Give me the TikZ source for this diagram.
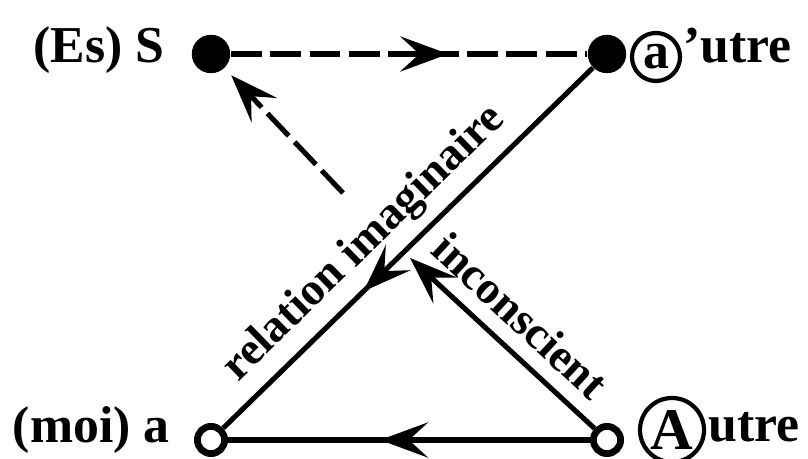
\documentclass[tikz,border=0pt]{standalone}
\usepackage{fontspec}
\setmainfont{Liberation Serif}
\usetikzlibrary{arrows.meta,positioning,decorations.markings}

\begin{document}
\begin{tikzpicture}[x=0.0125cm,y=0.0125cm,fulldot/.style={circle,fill=black,inner sep=0pt,minimum size=0.48cm},opendot/.style={circle,draw=black,line width=0.085cm,inner sep=0pt,minimum size=0.34cm},lbl/.style={font=\fontsize{18.4}{22}\selectfont\bfseries,inner sep=0pt},rotlbl/.style={font=\fontsize{16.3}{20}\selectfont\bfseries,inner sep=0pt,sloped},circlbl/.style={circle,draw=black,line width=1.5pt,inner sep=0pt},solidline/.style={line width=1.8pt,draw=black},dashline/.style={solidline,dash pattern=on 11pt off 3pt},endtip/.style={-{Stealth[length=0.6cm,width=0.44cm,inset=0.24cm]}},midtip/.style={postaction={decorate},decoration={markings,mark=at position #1 with {\arrow{Stealth[length=0.6cm,width=0.44cm,inset=0.24cm]}}}}]
\useasboundingbox (0,0) rectangle (808,459);

\node[fulldot] (S) at (211,405) {};
\node[fulldot] (autre) at (607,405) {};
\node[opendot] (moi) at (211,19) {};
\node[opendot] (Autre) at (607,19) {};
\coordinate (cross) at (410,201);
\coordinate (gap) at (343,266);

\node[lbl,anchor=base east] (Slbl) at (165,396) {(Es) S};
\node[lbl,anchor=base east] (moilbl) at (170,16) {(moi) a};
\node[lbl,circlbl,minimum size=0.6cm] (acirc) at (656,402) {a};
\node[lbl,anchor=base west] (autrelbl) at (683,396) {'utre};
\node[lbl,circlbl,minimum size=0.8cm,font=\fontsize{21}{24}\selectfont\bfseries] (Acirc) at (672,29) {A};
\node[lbl,anchor=base west] (Autrelbl) at (708,17) {utre};

\draw[dashline,midtip=.61] (S) -- (autre);
\draw[solidline,midtip=.62] (autre) -- (moi) node[rotlbl,pos=.555,above=3.5pt] (imlbl) {relation imaginaire};
\draw[solidline,midtip=.58] (Autre) -- (moi);
\draw[solidline,endtip] (Autre) -- (cross) node[rotlbl,pos=.52,above=5pt] (inclbl) {inconscient};
\draw[dashline,endtip,shorten >=0.12cm] (gap) -- (S);
\end{tikzpicture}
\end{document}
